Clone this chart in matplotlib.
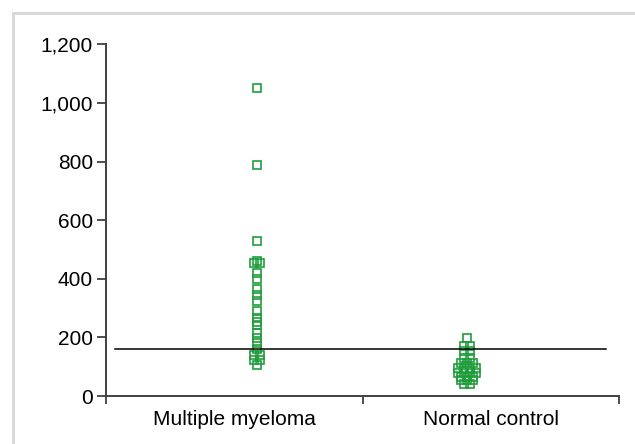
import matplotlib
matplotlib.use("Agg")
import matplotlib.pyplot as plt
from matplotlib.patches import Rectangle
from matplotlib.ticker import FuncFormatter
from collections import Counter

plt.rcParams['font.family'] = ['Liberation Sans', 'DejaVu Sans']

categories = ["Multiple myeloma", "Normal control"]
mm_values = [1050, 790, 530, 462, 455, 455, 420, 400, 365, 345, 325, 290,
             266, 253, 243, 216, 198, 180, 160, 140, 140, 123, 123, 106]
nc_values = [198, 170, 170, 155, 155, 130, 130, 113, 113, 113, 96, 96, 96, 96,
             80, 80, 80, 80, 66, 66, 66, 55, 55, 55, 41, 41]
cutoff = 160
y_ticks = [0, 200, 400, 600, 800, 1000, 1200]

W, H, DPI = 635, 444, 100
fig = plt.figure(figsize=(W / DPI, H / DPI), dpi=DPI)

# light grey frame
fig.patches.append(Rectangle((13 / W, -0.1), 1.2, 1 - 13 / H + 0.1,
                             transform=fig.transFigure, fill=False,
                             edgecolor='#d9d9d9', linewidth=2.2, zorder=0))

left, right = 106 / W, 619 / W
bottom, top = 1 - 396 / H, 1 - 44.5 / H
ax = fig.add_axes([left, bottom, right - left, top - bottom])
ax.set_xlim(0, 2)
ax.set_ylim(0, 1200)

green = '#1f9e3c'
step_px = 6.0
px_per_x = (right - left) * W / 2.0


def dodge(values, center):
    counts = Counter(values)
    seen = Counter()
    xs = []
    for v in values:
        n = counts[v]
        i = seen[v]
        seen[v] += 1
        xs.append(center + (i - (n - 1) / 2) * step_px / px_per_x)
    return xs


centers = [0.589, 1.407]
for vals, c in zip([mm_values, nc_values], centers):
    xs = dodge(vals, c)
    ax.plot(xs, vals, linestyle='none', marker='s', markersize=5.8,
            markerfacecolor='none', markeredgecolor=green, markeredgewidth=1.2)

ax.plot([0.035, 1.95], [cutoff, cutoff], color='black', linewidth=1.1)

for s in ['top', 'right']:
    ax.spines[s].set_visible(False)
for s in ['left', 'bottom']:
    ax.spines[s].set_color('#404040')
    ax.spines[s].set_linewidth(1.4)

ax.set_yticks(y_ticks)
ax.yaxis.set_major_formatter(FuncFormatter(lambda v, p: f"{int(v):,}"))
ax.set_xticks([0, 1, 2])
ax.set_xticklabels([])
ax.set_xticks([0.5, 1.5], minor=True)
ax.set_xticklabels(categories, minor=True)
ax.tick_params(axis='x', which='minor', length=0, pad=10, labelsize=15)
ax.tick_params(axis='x', which='major', length=6, width=1.3, color='#404040', direction='out')
ax.tick_params(axis='y', length=6.5, width=1.3, color='#404040', labelsize=15, pad=3)

fig.savefig("out.png", dpi=DPI)
